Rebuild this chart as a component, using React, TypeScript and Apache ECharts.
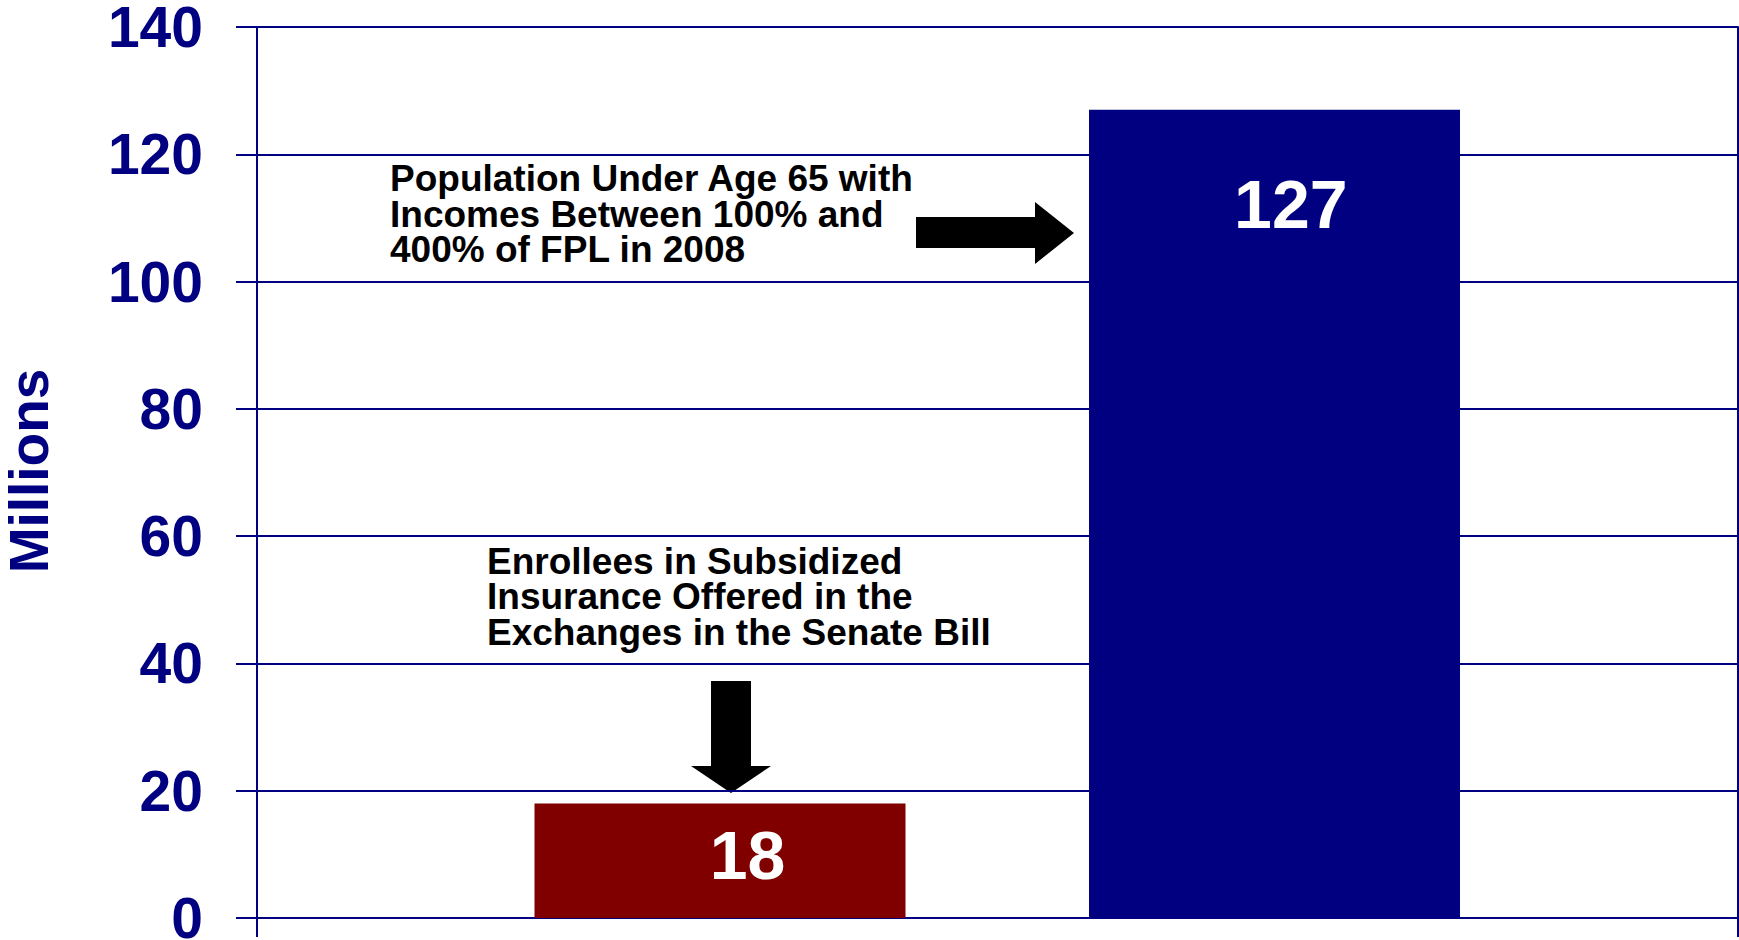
import React, { useEffect, useRef } from "react";
import * as echarts from "echarts";

const categories = ["Enrollees in Subsidized Insurance", "Population Under Age 65, 100%-400% FPL"];
const values = [18, 127];
const barColors = ["#800000", "#000080"];
const yTicks = [0, 20, 40, 60, 80, 100, 120, 140];
const axisName = "Millions";
const noteTop = ["Population Under Age 65 with", "Incomes Between 100% and", "400% of FPL in 2008"];
const noteBottom = ["Enrollees in Subsidized", "Insurance Offered in the", "Exchanges in the Senate Bill"];

const NAVY = "#000080";
const FONT = "'Liberation Sans', Arial, Helvetica, sans-serif";
const labelPos: [string, number][] = [["57.4%", 52], ["54.4%", 94]];

export default function App() {
  const ref = useRef<HTMLDivElement>(null);
  useEffect(() => {
    if (!ref.current) return;
    const chart = echarts.init(ref.current, undefined, { renderer: "svg" });
    const yMin = yTicks[0];
    const yMax = yTicks[yTicks.length - 1];
    const step = yTicks[1] - yTicks[0];

    const note = (lines: string[], x: number, yMid: number) => ({
      type: "text",
      x,
      y: yMid,
      style: {
        text: lines.join("\n"),
        fill: "#000",
        font: `bold 37px ${FONT}`,
        lineHeight: 35.5,
        textAlign: "left",
        textVerticalAlign: "middle",
      },
    });

    chart.setOption({
      animation: false,
      backgroundColor: "#fff",
      grid: [
        { left: 257, top: 27, width: 1481, height: 891, outerBoundsMode: "none", containLabel: false },
        { left: 442.75, top: 27, width: 1109, height: 891, outerBoundsMode: "none", containLabel: false },
      ],
      xAxis: [
        {
          gridIndex: 0,
          type: "category",
          data: [""],
          boundaryGap: true,
          axisLine: { show: true, lineStyle: { color: NAVY, width: 2 } },
          axisTick: { show: true, length: 19, interval: 0, lineStyle: { color: NAVY, width: 2 } },
          axisLabel: { show: false },
          splitLine: { show: false },
        },
        {
          gridIndex: 1,
          type: "category",
          data: categories,
          show: false,
        },
      ],
      yAxis: [
        {
          gridIndex: 0,
          type: "value",
          min: yMin,
          max: yMax,
          interval: step,
          axisLine: { show: true, lineStyle: { color: NAVY, width: 2 } },
          axisTick: { show: true, length: 21, lineStyle: { color: NAVY, width: 2 } },
          axisLabel: {
            margin: 54,
            color: NAVY,
            fontSize: 57,
            fontWeight: "bold",
            fontFamily: FONT,
          },
          splitLine: { show: true, lineStyle: { color: NAVY, width: 2 } },
        },
        {
          gridIndex: 1,
          type: "value",
          min: yMin,
          max: yMax,
          interval: step,
          show: false,
        },
        {
          gridIndex: 0,
          type: "value",
          position: "right",
          min: yMin,
          max: yMax,
          interval: step,
          axisLine: { show: true, lineStyle: { color: NAVY, width: 2 } },
          axisTick: { show: false },
          axisLabel: { show: false },
          splitLine: { show: false },
        },
      ],
      series: [
        {
          type: "bar",
          xAxisIndex: 1,
          yAxisIndex: 1,
          barWidth: 371,
          data: values.map((v, i) => ({
            value: v,
            itemStyle: { color: barColors[i] },
            label: {
              show: true,
              position: labelPos[i],
              align: "center",
              verticalAlign: "middle",
              color: "#fff",
              fontSize: 68,
              fontWeight: "bold",
              fontFamily: FONT,
              formatter: "{c}",
            },
          })),
        },
      ],
      graphic: [
        {
          type: "text",
          x: 29,
          y: 471,
          rotation: Math.PI / 2,
          style: {
            text: axisName,
            fill: NAVY,
            font: `bold 55px ${FONT}`,
            lineHeight: 50,
            textAlign: "center",
            textVerticalAlign: "middle",
          },
        },
        note(noteTop, 390, 214),
        note(noteBottom, 487, 596.5),
        {
          type: "polygon",
          shape: {
            points: [
              [916, 217], [1035, 217], [1035, 202], [1074, 233],
              [1035, 264], [1035, 248], [916, 248],
            ],
          },
          style: { fill: "#000" },
        },
        {
          type: "polygon",
          shape: {
            points: [
              [711, 681], [751, 681], [751, 766], [771, 766],
              [731, 793], [691, 766], [711, 766],
            ],
          },
          style: { fill: "#000" },
        },
      ],
    });
    return () => chart.dispose();
  }, []);
  return (
    <div
      ref={ref}
      style={{ position: "fixed", left: 0, top: 0, width: 1739, height: 940, background: "#fff" }}
    />
  );
}
